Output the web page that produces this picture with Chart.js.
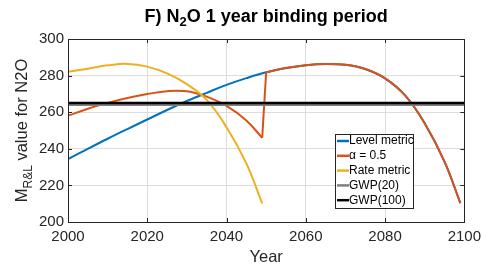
<!DOCTYPE html>
<html>
<head>
<meta charset="utf-8">
<script src="https://cdn.jsdelivr.net/npm/chart.js@4.4.1/dist/chart.umd.min.js"></script>
<style>
  html, body { margin: 0; padding: 0; background: #fff; }
  #wrap { width: 487px; height: 265px; position: relative; }
</style>
</head>
<body>
<div id="wrap"><canvas id="chart"></canvas></div>
<script>
// === Data ===
const levelYears  = [2000, 2005, 2010, 2015, 2020, 2025, 2030, 2035, 2040, 2045, 2050];
const levelValues = [234.4, 240.0, 245.5, 250.8, 256.0, 261.2, 266.1, 270.6, 274.9, 278.6, 281.8];

const alphaYears  = [2000, 2005, 2010, 2015, 2020, 2025, 2030, 2035, 2040, 2045, 2049];
const alphaValues = [258.1, 261.9, 265.1, 267.8, 269.9, 271.5, 271.4, 268.5, 263.4, 255.5, 246.0];

// after 2050 the level metric and alpha = 0.5 curves are the same
const lateYears  = [2050, 2055, 2060, 2065, 2070, 2075, 2080, 2085, 2090, 2095, 2099];
const lateValues = [281.8, 284.1, 285.7, 286.4, 285.9, 283.6, 278.5, 269.3, 254.0, 233.0, 210.3];

const rateYears  = [2000, 2005, 2010, 2015, 2020, 2025, 2030, 2035, 2040, 2045, 2049];
const rateValues = [282.1, 283.8, 285.6, 286.4, 284.9, 281.2, 275.3, 266.7, 251.8, 232.0, 210.2];

const gwp20 = 264;
const gwp100 = 265;

const xTicks = [2000, 2020, 2040, 2060, 2080, 2100];
const yTicks = [200, 220, 240, 260, 280, 300];

const toXY = (xs, ys) => xs.map((x, i) => ({ x, y: ys[i] }));

const levelData = toXY(levelYears, levelValues).concat(toXY(lateYears.slice(1), lateValues.slice(1)));
// break the smooth line at the switch, the jump itself is its own straight segment
const alphaData = toXY(alphaYears, alphaValues).concat([{ x: 2049.5, y: null }], toXY(lateYears, lateValues));
const alphaJump = [{ x: 2049, y: alphaValues[alphaValues.length - 1] }, { x: 2050, y: lateValues[0] }];
const rateData  = toXY(rateYears, rateValues);

const FONT = '"Liberation Sans", Arial, Helvetica, sans-serif';
const AXIS = '#262626';

// === Title, axis labels, frame and legend ===
const decorations = {
  id: 'decorations',
  afterDraw(chart) {
    const ctx = chart.ctx;
    const a = chart.chartArea;
    const xs = chart.scales.x, ys = chart.scales.y;
    ctx.save();

    // frame with inward ticks
    ctx.strokeStyle = AXIS;
    ctx.lineWidth = 1;
    ctx.strokeRect(Math.round(a.left) + 0.5, Math.round(a.top) + 0.5,
      Math.round(a.right - a.left), Math.round(a.bottom - a.top));
    ctx.beginPath();
    xTicks.forEach(t => {
      const px = Math.round(xs.getPixelForValue(t)) + 0.5;
      ctx.moveTo(px, a.bottom); ctx.lineTo(px, a.bottom - 4);
      ctx.moveTo(px, a.top); ctx.lineTo(px, a.top + 4);
    });
    yTicks.forEach(t => {
      const py = Math.round(ys.getPixelForValue(t)) + 0.5;
      ctx.moveTo(a.left, py); ctx.lineTo(a.left + 4, py);
      ctx.moveTo(a.right, py); ctx.lineTo(a.right - 4, py);
    });
    ctx.stroke();

    // title with subscript
    ctx.fillStyle = '#000';
    ctx.textBaseline = 'alphabetic';
    ctx.textAlign = 'left';
    const big = 'bold 18px ' + FONT, small = 'bold 13px ' + FONT;
    const p1 = 'F) N', p2 = '2', p3 = 'O 1 year binding period';
    ctx.font = big; const w1 = ctx.measureText(p1).width, w3 = ctx.measureText(p3).width;
    ctx.font = small; const w2 = ctx.measureText(p2).width;
    let tx = (a.left + a.right) / 2 - (w1 + w2 + w3) / 2;
    ctx.font = big; ctx.fillText(p1, tx, 22); tx += w1;
    ctx.font = small; ctx.fillText(p2, tx, 26); tx += w2;
    ctx.font = big; ctx.fillText(p3, tx, 22);

    // x label
    ctx.fillStyle = AXIS;
    ctx.font = '16.5px ' + FONT;
    ctx.textAlign = 'center';
    ctx.fillText('Year', (a.left + a.right) / 2, 262);

    // y label, rotated, with subscript
    ctx.save();
    ctx.translate(27, (a.top + a.bottom) / 2);
    ctx.rotate(-Math.PI / 2);
    ctx.textAlign = 'left';
    const yl1 = 'M', yl2 = 'R&L', yl3 = ' value for N2O';
    ctx.font = '16.5px ' + FONT; const v1 = ctx.measureText(yl1).width, v3 = ctx.measureText(yl3).width;
    ctx.font = '12px ' + FONT; const v2 = ctx.measureText(yl2).width;
    let lx = -(v1 + v2 + v3) / 2;
    ctx.font = '16.5px ' + FONT; ctx.fillText(yl1, lx, 0); lx += v1;
    ctx.font = '12px ' + FONT; ctx.fillText(yl2, lx, 5); lx += v2;
    ctx.font = '16.5px ' + FONT; ctx.fillText(yl3, lx, 0);
    ctx.restore();

    // legend box inside plot
    const bx = 335, by = 134, bw = 78, bh = 74;
    ctx.fillStyle = '#fff';
    ctx.fillRect(bx, by, bw, bh);
    ctx.strokeStyle = AXIS;
    ctx.strokeRect(bx + 0.5, by + 0.5, bw, bh);
    ctx.font = '12px ' + FONT;
    ctx.textAlign = 'left';
    ctx.textBaseline = 'middle';
    chart.data.datasets.filter(ds => !ds.noLegend).forEach((ds, i) => {
      const cy = by + 7 + i * 14.8;
      ctx.strokeStyle = ds.borderColor;
      ctx.lineWidth = 2.5;
      ctx.beginPath();
      ctx.moveTo(bx + 2, cy); ctx.lineTo(bx + 14, cy);
      ctx.stroke();
      ctx.fillStyle = '#000';
      ctx.fillText(ds.label, bx + 14, cy);
    });
    ctx.restore();
  }
};

// === Chart ===
const lineDefaults = { pointRadius: 0, borderWidth: 2, fill: false, tension: 0.4, spanGaps: false };

new Chart(document.getElementById('chart').getContext('2d'), {
  type: 'line',
  data: {
    datasets: [
      { label: 'Level metric', data: levelData, borderColor: '#0072BD', order: 6, ...lineDefaults },
      { label: '\u03B1 = 0.5', data: alphaData, borderColor: '#D95319', order: 4, ...lineDefaults },
      { label: 'Rate metric', data: rateData, borderColor: '#EDB120', order: 3, ...lineDefaults },
      { label: 'GWP(20)', data: [{ x: 2000, y: gwp20 }, { x: 2100, y: gwp20 }], borderColor: '#808080', order: 2, ...lineDefaults },
      { label: 'GWP(100)', data: [{ x: 2000, y: gwp100 }, { x: 2100, y: gwp100 }], borderColor: '#000000', order: 1, ...lineDefaults, borderWidth: 2.5 },
      { label: 'jump', noLegend: true, data: alphaJump, borderColor: '#D95319', order: 5, ...lineDefaults, tension: 0 }
    ]
  },
  options: {
    responsive: true,
    maintainAspectRatio: false,
    animation: false,
    layout: { padding: { top: 39, right: 19, left: 0, bottom: 0 } },
    plugins: { legend: { display: false }, tooltip: { enabled: false } },
    scales: {
      x: {
        type: 'linear', min: 2000, max: 2100,
        afterBuildTicks: s => { s.ticks = xTicks.map(v => ({ value: v })); },
        afterFit: s => { s.height = 43; },
        ticks: { callback: v => String(v), color: AXIS, font: { family: FONT, size: 15 }, padding: 6, maxRotation: 0 },
        grid: { color: '#dcdcdc', drawTicks: false },
        border: { display: false }
      },
      y: {
        type: 'linear', min: 200, max: 300,
        afterBuildTicks: s => { s.ticks = yTicks.map(v => ({ value: v })); },
        afterFit: s => { s.width = 68; },
        ticks: { callback: v => String(v), color: AXIS, font: { family: FONT, size: 15 }, padding: 4 },
        grid: { color: '#dcdcdc', drawTicks: false },
        border: { display: false }
      }
    }
  },
  plugins: [decorations]
});
</script>
</body>
</html>
